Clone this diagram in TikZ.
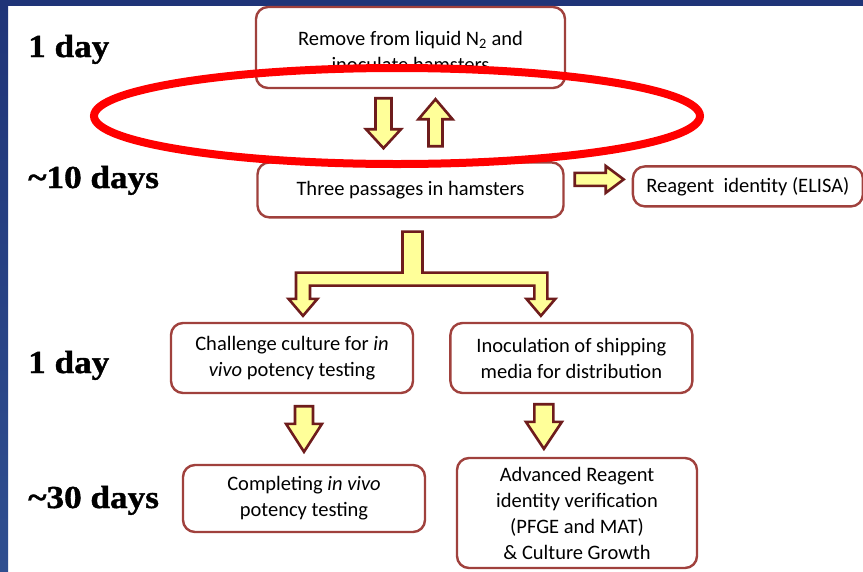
\documentclass[tikz,border=0pt]{standalone}
\usepackage{fontspec}
\setmainfont{Carlito}
\newfontfamily\dayfont[FakeStretch=1.1,FakeBold=1.2]{Liberation Serif}
\usetikzlibrary{calc,positioning}

\definecolor{slideblue}{HTML}{1F3478}
\definecolor{slideblue2}{HTML}{2F4F90}
\definecolor{boxred}{HTML}{A0413D}
\definecolor{arrowyellow}{HTML}{FFFF99}
\definecolor{arrowbrown}{HTML}{6E1C1C}

\tikzset{
	stepbox/.style={draw=boxred,line width=2.4pt,rounded corners=12pt,fill=white,
		align=center,inner sep=0pt,font=\fontsize{20.5}{26}\selectfont},
	daylabel/.style={anchor=base west,inner sep=0pt,
		font=\dayfont\bfseries\fontsize{32}{36}\selectfont},
	blockarrow/.style={fill=arrowyellow,draw=arrowbrown,line width=2.6pt,line join=miter},
}

% block arrows: start, tip, half shaft, half head, head length
\newcommand{\arrowdown}[5]{%
	\filldraw [blockarrow] let
	\p1=(#1),
	\p2=(#2)
	in
	(\x1-#3,\y1) -- (\x1+#3,\y1) -- (\x1+#3,\y2+#5) -- (\x1+#4,\y2+#5)
	-- (\x1,\y2) -- (\x1-#4,\y2+#5) -- (\x1-#3,\y2+#5) -- cycle;
}
\newcommand{\arrowup}[5]{%
	\filldraw [blockarrow] let
	\p1=(#1),
	\p2=(#2)
	in
	(\x1-#3,\y1) -- (\x1+#3,\y1) -- (\x1+#3,\y2-#5) -- (\x1+#4,\y2-#5)
	-- (\x1,\y2) -- (\x1-#4,\y2-#5) -- (\x1-#3,\y2-#5) -- cycle;
}
\newcommand{\arrowright}[5]{%
	\filldraw [blockarrow] let
	\p1=(#1),
	\p2=(#2)
	in
	(\x1,\y1-#3) -- (\x2-#5,\y1-#3) -- (\x2-#5,\y1-#4) -- (\x2,\y1)
	-- (\x2-#5,\y1+#4) -- (\x2-#5,\y1+#3) -- (\x1,\y1+#3) -- cycle;
}

\begin{document}
\begin{tikzpicture}[x=1pt,y=-1pt]
	
	\useasboundingbox (0,0) rectangle (863,571);
	\fill [white] (0,0) rectangle (863,571);
	\shade [top color=slideblue,bottom color=slideblue2] (0,0) rectangle (8,571);
	\fill [slideblue] (0,0) rectangle (863,6);
	
	%%%%%%%%%%%%%%%%%%%%%%%%%%%%%%%%%%%%%%%%%%%%%%%%%%%%%%
	
	\node [daylabel] (day-one) at (28,57) {1 day};
	\node [daylabel] (day-ten) at (28,188) {\textasciitilde10 days};
	\node [daylabel] (day-one-b) at (28,373) {1 day};
	\node [daylabel] (day-thirty) at (28,508) {\textasciitilde30 days};
	
	%%%%%%%%%%%%%%%%%%%%%%%%%%%%%%%%%%%%%%%%%%%%%%%%%%%%%%
	
	\node [stepbox,minimum width=309pt,minimum height=81pt] (remove) at (410.5,47.5)
		{\rule{0pt}{22pt}Remove from liquid N\textsubscript{2} and\\inoculate hamsters};
	\node [stepbox,minimum width=306pt,minimum height=55pt,below=72pt of remove] (three)
		{Three passages in hamsters};
	\node [stepbox,minimum width=230pt,minimum height=40pt,right=67pt of three,yshift=3.5pt] (elisa)
		{Reagent\ \ identity (ELISA)};
	
	\node [stepbox,minimum width=242pt,minimum height=70pt] (challenge) at (292,358)
		{Challenge culture for \textit{in}\\\textit{vivo} potency testing};
	\node [stepbox,minimum width=242pt,minimum height=70pt,right=35pt of challenge] (inoc)
		{Inoculation of shipping\\media for distribution};
	
	\node [stepbox,minimum width=242pt,minimum height=67pt] (complete) at (304,498.5)
		{Completing \textit{in vivo}\\potency testing};
	\node [stepbox,minimum width=240pt,minimum height=110pt] (advanced) at (577,513)
		{Advanced Reagent\\identity verification\\(PFGE and MAT)\\\& Culture Growth};
	
	%%%%%%%%%%%%%%%%%%%%%%%%%%%%%%%%%%%%%%%%%%%%%%%%%%%%%%
	
	\coordinate (down-top) at ($(remove.south)+(-27,9)$);
	\coordinate (down-tip) at ($(three.north)+(-26.5,-13)$);
	\arrowdown{down-top}{down-tip}{8pt}{17.5pt}{19pt}
	
	\coordinate (up-base) at ($(three.north)+(25,-15)$);
	\coordinate (up-tip) at ($(remove.south)+(24.5,10)$);
	\arrowup{up-base}{up-tip}{7pt}{17pt}{20pt}
	
	\coordinate (right-tail) at ($(three.east)+(10,-10.5)$);
	\coordinate (right-tip) at ($(elisa.west)+(-8,-7)$);
	\arrowright{right-tail}{right-tip}{6.5pt}{13.5pt}{18pt}
	
	%%%%%%%%%%%%%%%%%%%%%%%%%%%%%%%%%%%%%%%%%%%%%%%%%%%%%%
	
	\coordinate (split-top) at ($(three.south)+(2,13)$);
	\coordinate (split-left) at ($(challenge.north)+(11,-6)$);
	\coordinate (split-right) at ($(inoc.north)+(-30.5,-6)$);
	
	\filldraw [blockarrow] let
	\p1=(split-top),
	\p2=(split-left),
	\p3=(split-right)
	in
	(\x1-10pt,\y1) -- (\x1+10pt,\y1) -- (\x1+10pt,\y1-41pt) -- (\x3+6.5pt,\y1-41pt)
	-- (\x3+6.5pt,\y3+17pt) -- (\x3+14.5pt,\y3+17pt) -- (\p3) -- (\x3-14.5pt,\y3+17pt)
	-- (\x3-6.5pt,\y3+17pt) -- (\x3-6.5pt,\y1-54pt) -- (\x2+7pt,\y1-54pt)
	-- (\x2+7pt,\y2+17pt) -- (\x2+14.5pt,\y2+17pt) -- (\p2) -- (\x2-14.5pt,\y2+17pt)
	-- (\x2-7pt,\y2+17pt) -- (\x2-7pt,\y1-41pt) -- (\x1-10pt,\y1-41pt) -- cycle;
	
	%%%%%%%%%%%%%%%%%%%%%%%%%%%%%%%%%%%%%%%%%%%%%%%%%%%%%%
	
	\coordinate (left-top) at ($(challenge.south)+(12,12)$);
	\coordinate (left-tip) at ($(complete.north)+(0,-12)$);
	\arrowdown{left-top}{left-tip}{9pt}{18pt}{28pt}
	
	\coordinate (right-top) at ($(inoc.south)+(-27.5,10)$);
	\coordinate (right-bot) at ($(advanced.north)+(-35.5,-8)$);
	\arrowdown{right-top}{right-bot}{9.5pt}{18pt}{27pt}
	
	%%%%%%%%%%%%%%%%%%%%%%%%%%%%%%%%%%%%%%%%%%%%%%%%%%%%%%
	
	\coordinate (mark-centre) at (397,116);
	\draw [red,line width=8pt] (mark-centre) ellipse [x radius=303pt,y radius=48pt];
	
\end{tikzpicture}
\end{document}
